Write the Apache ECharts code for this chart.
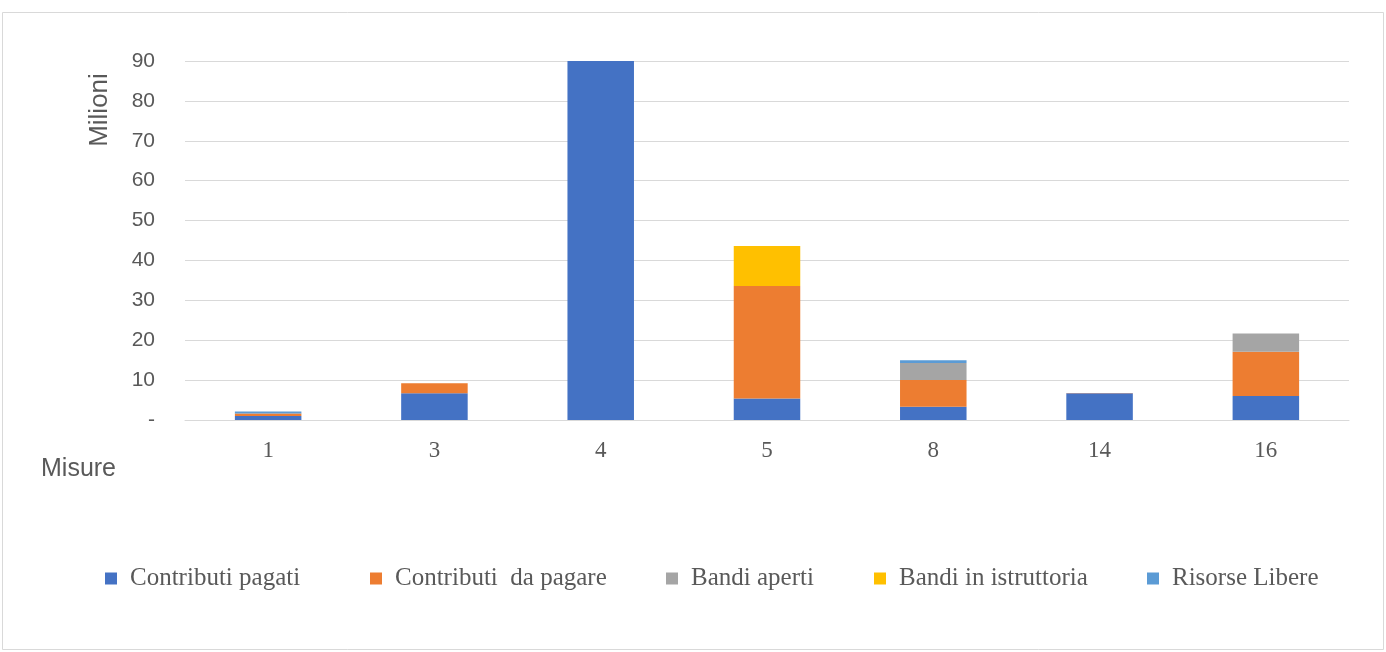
<!DOCTYPE html>
<html>
<head>
<meta charset="utf-8">
<script src="https://cdn.jsdelivr.net/npm/echarts@6/dist/echarts.min.js"></script>
<style>
html,body{margin:0;padding:0;background:#fff;}
#chart{width:1386px;height:652px;}
</style>
</head>
<body>
<div id="chart"></div>
<script>
const categories = ['1', '3', '4', '5', '8', '14', '16'];
const contributiPagati = [1.0, 6.7, 90.0, 5.4, 3.3, 6.7, 6.0];
const contributiDaPagare = [0.6, 2.5, 0, 28.2, 6.7, 0.1, 11.1];
const bandiAperti = [0, 0, 0, 0, 4.3, 0, 4.6];
const bandiIstruttoria = [0, 0, 0, 10.0, 0, 0, 0];
const risorseLibere = [0.5, -0.3, 0, -0.3, 0.7, 0, 0];
const yTicks = [0, 10, 20, 30, 40, 50, 60, 70, 80, 90];

const seriesDefs = [
  ['Contributi pagati', contributiPagati, '#4472C4'],
  ['Contributi  da pagare', contributiDaPagare, '#ED7D31'],
  ['Bandi aperti', bandiAperti, '#A5A5A5'],
  ['Bandi in istruttoria', bandiIstruttoria, '#FFC000'],
  ['Risorse Libere', risorseLibere, '#5B9BD5']
];
const legendLefts = [100, 365, 661, 869, 1142];

const chart = echarts.init(document.getElementById('chart'));
chart.setOption({
  animation: false,
  backgroundColor: '#fff',
  graphic: [
    {type: 'rect', shape: {x: 2.5, y: 12.5, width: 1381, height: 637}, style: {fill: 'none', stroke: '#d9d9d9', lineWidth: 1}, silent: true},
    {type: 'text', x: 100, y: 110, rotation: Math.PI / 2, style: {text: 'Milioni', font: '26px "Liberation Sans", Carlito, sans-serif', fill: '#595959', align: 'center', verticalAlign: 'middle'}},
    {type: 'text', x: 41, y: 469, style: {text: 'Misure', font: '25px "Liberation Sans", Carlito, sans-serif', fill: '#595959', align: 'left', verticalAlign: 'middle'}}
  ],
  grid: {left: 185, right: 37, top: 61, bottom: 232},
  legend: seriesDefs.map((d, i) => ({
    left: legendLefts[i], top: 561,
    itemWidth: 12, itemHeight: 12,
    icon: 'rect',
    textStyle: {fontFamily: '"Liberation Serif", serif', fontSize: 25, color: '#595959', padding: [0, 0, 0, 8]},
    data: [d[0]]
  })),
  xAxis: {
    type: 'category', data: categories,
    axisLine: {lineStyle: {color: '#d9d9d9', width: 1}},
    axisTick: {show: false},
    axisLabel: {fontFamily: '"Liberation Serif", serif', fontSize: 23, color: '#595959', margin: 19}
  },
  yAxis: {
    type: 'value', min: 0, max: 90, interval: 10,
    axisLine: {show: false}, axisTick: {show: false},
    splitLine: {lineStyle: {color: '#d9d9d9', width: 1}},
    axisLabel: {fontFamily: '"Liberation Sans", sans-serif', fontSize: 21, color: '#595959', margin: 30,
      formatter: v => yTicks.indexOf(v) === 0 ? '-' : String(v)}
  },
  series: seriesDefs.map(d => ({
    name: d[0], type: 'bar', stack: 'total', data: d[1], barWidth: '40%',
    itemStyle: {color: d[2]}
  }))
});
</script>
</body>
</html>
